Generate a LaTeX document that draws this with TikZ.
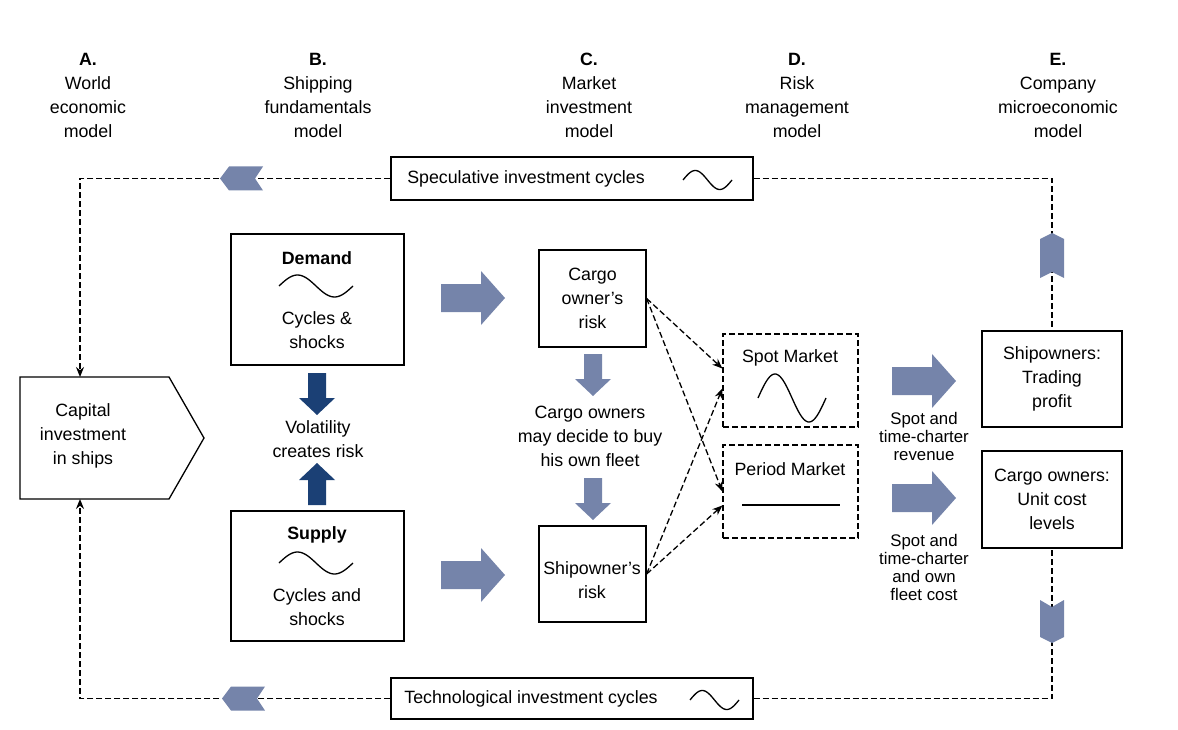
\documentclass[tikz,border=0pt]{standalone}
\usepackage{fontspec}
\setmainfont{Liberation Sans}
\usetikzlibrary{arrows.meta}
\definecolor{lightarr}{HTML}{7584AA}
\definecolor{darkarr}{HTML}{1B4075}

% fat arrow pointing right, shaft starts at (#1,#2)
\newcommand{\fatright}[2]{\fill[lightarr] (#1,#2) ++(0,-14) -- ++(40,0) -- ++(0,-13) -- ++(24,27) -- ++(-24,27) -- ++(0,-13) -- ++(-40,0) -- cycle;}
% block arrow pointing down, shaft starts at (#2,#3)
\newcommand{\blockdown}[3]{\fill[#1] (#2,#3) ++(-9,0) -- ++(18,0) -- ++(0,25) -- ++(9,0) -- ++(-18,17) -- ++(-18,-17) -- ++(9,0) -- cycle;}
\newcommand{\blockup}[3]{\fill[#1] (#2,#3) ++(-9,0) -- ++(18,0) -- ++(0,-25) -- ++(9,0) -- ++(-18,-17) -- ++(-18,17) -- ++(9,0) -- cycle;}
% chevron pointing left, tip at (#1,#2)
\newcommand{\chevleft}[2]{\fill[lightarr] (#1,#2) -- ++(9,-12) -- ++(34,0) -- ++(-8,12) -- ++(8,12) -- ++(-34,0) -- cycle;}

\begin{document}
\begin{tikzpicture}[x=1pt,y=-1pt,>={Stealth[length=10pt,width=8pt]},
    every node/.style={font=\fontsize{17.8}{24}\selectfont,align=center,inner sep=0pt}]
  \tikzstyle{box}=[draw,line width=1.3pt,rectangle]
  \tikzstyle{market}=[draw,line width=1.3pt,dash pattern=on 6pt off 3pt,rectangle]
  \tikzstyle{link}=[line width=1.3pt,dash pattern=on 6pt off 3pt]
  \tikzstyle{wave}=[line width=1.3pt]
  \tikzstyle{small}=[font=\fontsize{16.8}{18}\selectfont]
  \useasboundingbox (0,0) rectangle (1178,730);

  % column headers
  \node (hA) at (88,95)   {\textbf{A.}\\World\\economic\\model};
  \node (hB) at (318,95)  {\textbf{B.}\\Shipping\\fundamentals\\model};
  \node (hC) at (589,95)  {\textbf{C.}\\Market\\investment\\model};
  \node (hD) at (797,95)  {\textbf{D.}\\Risk\\management\\model};
  \node (hE) at (1058,95) {\textbf{E.}\\Company\\microeconomic\\model};

  % investment cycle boxes
  \node[box,minimum width=362,minimum height=43] (spec) at (572,178.5) {};
  \node (spectxt) at (526,179) {Speculative investment cycles};
  \draw[wave] plot[domain=0:360,samples=40] ({683+\x/360*49},{180-9.5*sin(\x)});
  \node[box,minimum width=362,minimum height=41] (tech) at (572,698.5) {};
  \node (techtxt) at (531,699) {Technological investment cycles};
  \draw[wave] plot[domain=0:360,samples=40] ({690+\x/360*49},{700-9.5*sin(\x)});

  % capital investment
  \coordinate (captop) at (80,377);
  \coordinate (capbot) at (80,499);
  \draw[line width=1.3pt] (20,377) -- (169,377) -- (204,438) -- (169,499) -- (20,499) -- cycle;
  \node (capital) at (83,436) {Capital\\investment\\in ships};

  % shipping fundamentals
  \node[box,minimum width=173,minimum height=131] (demand) at (317.5,299.5) {};
  \node (demtitle) at (317,258) {\textbf{Demand}};
  \draw[wave] plot[domain=0:360,samples=40] ({279+\x/360*74},{286-11*sin(\x)});
  \node (demtxt) at (317,330) {Cycles \&\\shocks};
  \node[box,minimum width=173,minimum height=130] (supply) at (317.5,576) {};
  \node (suptitle) at (317,535) {\textbf{Supply}};
  \draw[wave] plot[domain=0:360,samples=40] ({279+\x/360*74},{563-11*sin(\x)});
  \node (suptxt) at (317,607) {Cycles and\\shocks};
  \blockdown{darkarr}{317}{373}
  \node (vol) at (318,439) {Volatility\\creates risk};
  \blockup{darkarr}{317}{505}

  % market investment
  \node[box,minimum width=107,minimum height=97] (cargo) at (592.5,298.5) {Cargo\\owner's\\risk};
  \node[box,minimum width=107,minimum height=96] (shipr) at (592.5,574) {};
  \node (shiprtxt) at (592,580) {Shipowner's\\risk};
  \blockdown{lightarr}{593}{354}
  \node (fleet) at (590,436) {Cargo owners\\may decide to buy\\his own fleet};
  \blockdown{lightarr}{593}{478}
  \fatright{441}{298}
  \fatright{441}{575}

  % risk management
  \node[market,minimum width=135,minimum height=93] (spot) at (790.5,380.5) {};
  \node (spottxt) at (790,358) {Spot Market};
  \draw[wave] plot[domain=0:360,samples=50] ({758+\x/360*68},{398-24*sin(\x)});
  \node[market,minimum width=135,minimum height=93] (period) at (790.5,491.5) {};
  \node (periodtxt) at (790,469) {Period Market};
  \draw[wave] (742,505) -- (840,505);

  \draw[link,->] (cargo.east) -- ([yshift=12pt]spot.west);
  \draw[link,->] (cargo.east) -- (period.west);
  \draw[link,->] (shipr.east) -- ([yshift=-8pt]spot.west);
  \draw[link,->] (shipr.east) -- ([yshift=-14pt]period.west);

  % company model
  \fatright{892}{381}
  \node[small] (rev) at (924,436) {Spot and\\time-charter\\revenue};
  \fatright{892}{498}
  \node[small] (cost) at (924,567) {Spot and\\time-charter\\and own\\fleet cost};
  \node[box,minimum width=140,minimum height=96] (shipo) at (1052,379) {Shipowners:\\Trading\\profit};
  \node[box,minimum width=140,minimum height=97] (cargoo) at (1052,499.5) {Cargo owners:\\Unit cost\\levels};

  % feedback loops
  \draw[link,->] (spec.west) -| (captop);
  \draw[link] (spec.east) -| (shipo.north);
  \draw[link,->] (tech.west) -| (capbot);
  \draw[link] (tech.east) -| (cargoo.south);
  \chevleft{220}{178.5}
  \chevleft{222}{698.5}
  \fill[lightarr] (1052,233) -- (1064,239) -- (1064,278) -- (1052,272) -- (1040,278) -- (1040,239) -- cycle;
  \fill[lightarr] (1040,600) -- (1052,607) -- (1064,600) -- (1064,637) -- (1052,643) -- (1040,637) -- cycle;
\end{tikzpicture}
\end{document}
